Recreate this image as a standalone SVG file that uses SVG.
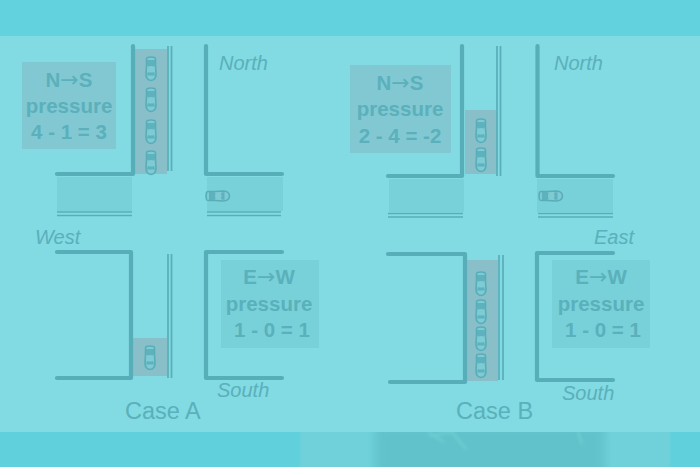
<svg xmlns="http://www.w3.org/2000/svg" width="700" height="467" viewBox="0 0 700 467">
<defs>
<style>
.w{fill:none;stroke:#58aeb8;stroke-width:4.200;stroke-linecap:round;stroke-linejoin:round}
.d{fill:none;stroke:#58aeb8;stroke-width:1.700}
.q{fill:#88bfc9}
.p{fill:#78d0d8}
.g{fill:#82c8d2}
text{font-family:"Liberation Sans",Arial,sans-serif;fill:#5ab0bb}
.b{font-weight:bold;font-size:20.500px;text-anchor:middle}
.a{font-family:"DejaVu Sans",sans-serif;font-weight:normal;font-size:22px}
.i{font-style:italic;font-size:20px}
.c{font-size:23.500px}
.body{fill:#7ecbd4;stroke:#58aeb8;stroke-width:1.600}
.car{fill:#58aeb8}
</style>
<g id="car">
<path class="body" d="M-3.500-11.500Q0-12.500 3.500-11.500Q4.500-11 4.500-9.500V-3L5 5Q5 11 0 11.500Q-5 11-5 5L-4.500-3V-9.500Q-4.500-11-3.500-11.500Z"/>
<path class="car" d="M-4.500-9H4.500V-5.500L3.200-2.500Q0-3.500-3.200-2.500L-4.500-5.500ZM-3.200 3Q0 4 3.200 3L4 6.500H-4Z" opacity=".85"/>
</g>
<filter id="bl" x="-20%" y="-100%" width="140%" height="300%"><feGaussianBlur stdDeviation="5"/></filter>
<filter id="bs" x="-20%" y="-100%" width="140%" height="300%"><feGaussianBlur stdDeviation="1.500"/></filter>
</defs>
<rect width="700" height="467" fill="#82dae2"/>
<rect width="700" height="36" fill="#62d2de"/>
<rect y="432" width="700" height="35" fill="#60d0dc"/>
<rect x="300" y="425" width="370" height="50" fill="#6fd1da" filter="url(#bs)"/>
<rect x="375" y="425" width="230" height="50" fill="#62c2cc" filter="url(#bl)"/>
<path d="M430 436L452 432L466 449M444 442L428 432M578 432L582 444" fill="none" stroke="#6ed0d0" stroke-width="2" filter="url(#bs)"/>
<rect x="0" y="36" width="700" height="396" fill="#82dae2"/>

<g id="case-a">
<rect class="q" x="135" y="49" width="32" height="125"/>
<rect class="p" x="57" y="177" width="75" height="34"/>
<rect class="p" x="207" y="177" width="76" height="34"/>
<rect class="q" x="133" y="338" width="34" height="38"/>
<use href="#car" x="151" y="69"/>
<use href="#car" x="151" y="100"/>
<use href="#car" x="151" y="132"/>
<use href="#car" x="151" y="163"/>
<use href="#car" x="150" y="358"/>
<use href="#car" transform="translate(218 196) rotate(-90)"/>
</g>

<g id="case-b">
<rect class="q" x="465" y="110" width="32" height="64"/>
<rect class="p" x="389" y="179" width="75" height="33"/>
<rect class="p" x="537" y="179" width="76" height="33"/>
<rect class="q" x="466" y="260" width="32" height="121"/>
<use href="#car" x="481" y="131"/>
<use href="#car" x="481" y="160"/>
<use href="#car" x="481" y="284"/>
<use href="#car" x="481" y="312"/>
<use href="#car" x="481" y="339"/>
<use href="#car" x="481" y="366"/>
<use href="#car" transform="translate(551 196) rotate(-90)"/>
</g>

<g id="connectors">
<path class="w" d="M133 46V174H57M206 46V174H282M57 252H131V378H57M282 252H206V378H282"/>
<path class="d" d="M168 46V171M171.500 46V171M57 212H132M57 215.500H132M207 212H281M207 215.500H281M168 254V378M171.500 254V378"/>
<path class="w" d="M462 46V176H388M537.500 46V176H613M388 254H465V382H390M613 253H537V380H613"/>
<path class="d" d="M497 46V176M500.500 46V176M388 213.500H463M388 217H463M538 213.500H613M538 217H613M499 255V380M503 255V380"/>
</g>

<g id="ns-a">
<rect class="g" x="22" y="62" width="94" height="87"/>
<text class="b" x="69" y="87">N<tspan class="a">→</tspan>S</text>
<text class="b" x="69" y="113">pressure</text>
<text class="b" x="69" y="139">4 - 1 = 3</text>
</g>
<g id="ew-a">
<rect class="p" x="221" y="260" width="98" height="88"/>
<text class="b" x="269" y="284">E<tspan class="a">→</tspan>W</text>
<text class="b" x="269" y="311">pressure</text>
<text class="b" x="272" y="337">1 - 0 = 1</text>
</g>
<g id="ns-b">
<rect class="g" x="350" y="65" width="101" height="88"/>
<text class="b" x="400" y="90">N<tspan class="a">→</tspan>S</text>
<text class="b" x="400" y="116">pressure</text>
<text class="b" x="400" y="143">2 - 4 = -2</text>
</g>
<g id="ew-b">
<rect class="p" x="552" y="260" width="98" height="88"/>
<text class="b" x="601" y="284">E<tspan class="a">→</tspan>W</text>
<text class="b" x="601" y="311">pressure</text>
<text class="b" x="603" y="337">1 - 0 = 1</text>
</g>
<g id="labels">
<text class="i" x="219" y="70">North</text>
<text class="i" x="35" y="244">West</text>
<text class="i" x="217" y="397">South</text>
<text class="c" x="125" y="419">Case A</text>
<text class="i" x="554" y="70">North</text>
<text class="i" x="594" y="244">East</text>
<text class="i" x="562" y="400">South</text>
<text class="c" x="456" y="419">Case B</text>
</g>
</svg>
